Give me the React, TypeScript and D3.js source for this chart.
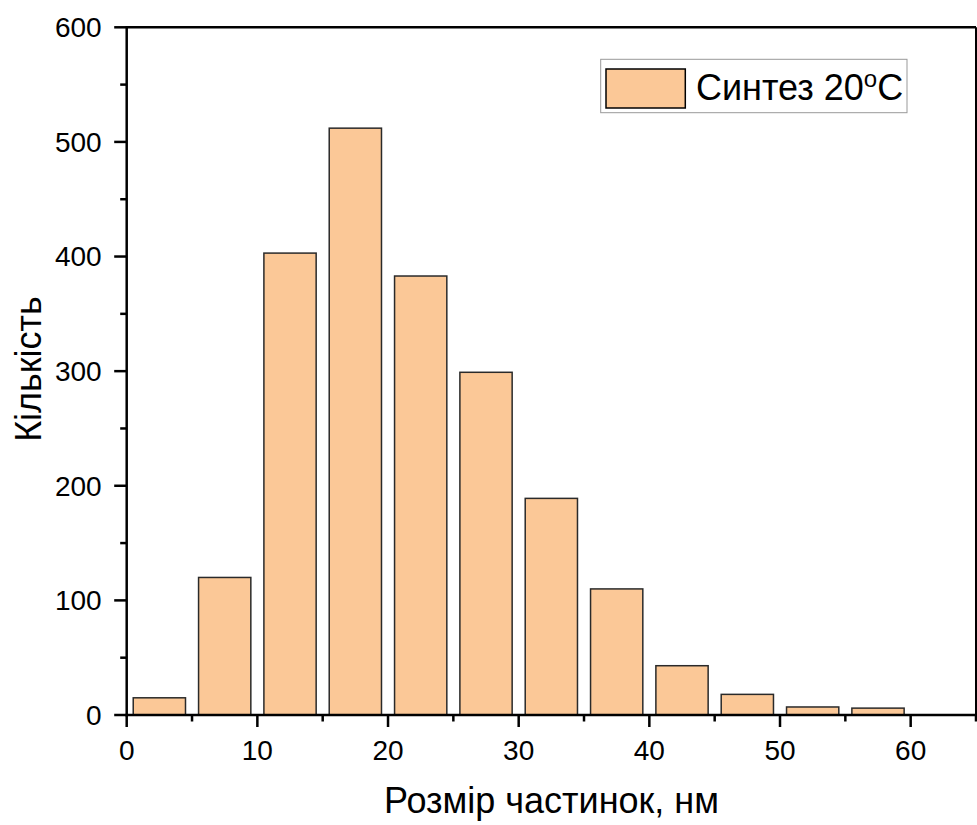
import React from "react";
import * as d3 from "d3";

const binStarts = [0, 5, 10, 15, 20, 25, 30, 35, 40, 45, 50, 55];
const counts = [15, 120, 403, 512, 383, 299, 189, 110, 43, 18, 7, 6];
const xMajorTicks = [0, 10, 20, 30, 40, 50, 60];
const xMinorTicks = [5, 15, 25, 35, 45, 55, 65];
const yMajorTicks = [0, 100, 200, 300, 400, 500, 600];
const yMinorTicks = [50, 150, 250, 350, 450, 550];
const xTitle = "Розмір частинок, нм";
const yTitle = "Кількість";
const legendLabel = "Синтез 20";

const W = 977;
const H = 825;
const L = 126.7, R = 976, T = 27.3, B = 715;
const FONT = "'Liberation Sans', Arial, sans-serif";
const FILL = "#FBC897";

export default function App() {
  const x = d3.scaleLinear().domain([0, 65]).range([L, R]);
  const y = d3.scaleLinear().domain([0, 600]).range([B, T]);
  return (
    <svg width={W} height={H} style={{ position: "absolute", left: 0, top: 0, background: "#fff" }} fontFamily={FONT}>
      {binStarts.map((s, i) => (
        <rect key={i} x={x(s + 0.5)} y={y(counts[i])} width={x(s + 4.5) - x(s + 0.5)} height={y(0) - y(counts[i])}
          fill={FILL} stroke="#2a2a2a" strokeWidth={1.5} />
      ))}
      {/* frame */}
      <line x1={L} x2={R} y1={T} y2={T} stroke="#000" strokeWidth={2.5} />
      <line x1={R} x2={R} y1={T} y2={B} stroke="#000" strokeWidth={2} />
      <line x1={L} x2={L} y1={T - 1.2} y2={B + 1.2} stroke="#000" strokeWidth={2.5} />
      <line x1={L - 1.2} x2={R} y1={B} y2={B} stroke="#000" strokeWidth={2.5} />
      {/* y ticks */}
      {yMajorTicks.map((v) => (
        <g key={"ym" + v}>
          <line x1={L - 12.5} x2={L} y1={y(v)} y2={y(v)} stroke="#000" strokeWidth={2.5} />
          <text x={L - 25} y={y(v)} dy="0.35em" textAnchor="end" fontSize={28} fill="#000">{v}</text>
        </g>
      ))}
      {yMinorTicks.map((v) => (
        <line key={"yn" + v} x1={L - 6.5} x2={L} y1={y(v)} y2={y(v)} stroke="#000" strokeWidth={2.5} />
      ))}
      {/* x ticks */}
      {xMajorTicks.map((v) => (
        <g key={"xm" + v}>
          <line x1={x(v)} x2={x(v)} y1={B} y2={B + 12} stroke="#000" strokeWidth={2.5} />
          <text x={x(v)} y={760} textAnchor="middle" fontSize={28} fill="#000">{v}</text>
        </g>
      ))}
      {xMinorTicks.map((v) => (
        <line key={"xn" + v} x1={x(v)} x2={x(v)} y1={B} y2={B + 6.5} stroke="#000" strokeWidth={2.5} />
      ))}
      {/* titles */}
      <text x={551.5} y={813} textAnchor="middle" fontSize={36} fill="#000">{xTitle}</text>
      <text transform={`translate(41, 369) rotate(-90)`} textAnchor="middle" fontSize={36} fill="#000">{yTitle}</text>
      {/* legend */}
      <rect x={600.7} y={59.3} width={306.3} height={53.4} fill="#fff" stroke="#999" strokeWidth={1} />
      <rect x={606} y={69} width={79.3} height={39} fill={FILL} stroke="#000" strokeWidth={1.5} />
      <text x={696} y={100} fontSize={36} fill="#000">
        {legendLabel}
        <tspan fontSize={24} dy={-13}>o</tspan>
        <tspan dy={13}>C</tspan>
      </text>
    </svg>
  );
}
